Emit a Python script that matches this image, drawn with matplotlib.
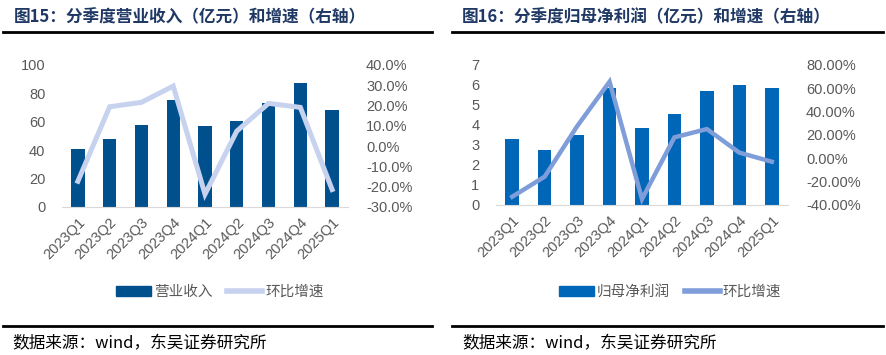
import matplotlib
matplotlib.use("Agg")
import matplotlib.pyplot as plt
from matplotlib.lines import Line2D
from matplotlib.patches import Patch
from matplotlib.ticker import FuncFormatter

plt.rcParams['font.family'] = ['Liberation Sans', 'Noto Sans CJK SC', 'DejaVu Sans']

# Data
quarters = ['2023Q1', '2023Q2', '2023Q3', '2023Q4', '2024Q1',
            '2024Q2', '2024Q3', '2024Q4', '2025Q1']
revenue = [40.5, 47.8, 57.9, 75.3, 56.9, 60.9, 73.4, 87.3, 68.5]
revenue_qoq = [-17.3, 19.4, 21.6, 29.6, -23.7, 7.4, 21.1, 19.1, -21.4]
profit = [3.28, 2.75, 3.52, 5.87, 3.85, 4.53, 5.68, 6.00, 5.83]
profit_qoq = [-32.9, -15.7, 27.5, 65.7, -34.9, 18.0, 25.1, 4.9, -2.9]

TICK_GRAY = '#595959'
CJK = ['Noto Sans CJK SC', 'DejaVu Sans']


def draw_panel(fig, rect, bars, line, bar_color, line_color, line_w,
               ylim, yticks, y2lim, y2ticks, pct_fmt):
    ax = fig.add_axes(rect)
    x = list(range(len(quarters)))
    ax.bar(x, bars, width=0.42, color=bar_color, zorder=2)
    ax.set_xlim(-0.5, len(quarters) - 0.5)
    ax.set_ylim(*ylim)
    ax.set_yticks(yticks)
    ax.set_xticks(x)
    ax.set_xticklabels(quarters, rotation=45, ha='right', va='top',
                       rotation_mode='anchor')
    for s in ['top', 'right', 'left']:
        ax.spines[s].set_visible(False)
    ax.spines['bottom'].set_color('#d9d9d9')
    ax.tick_params(axis='both', length=0, labelsize=10.5, colors=TICK_GRAY)
    ax.tick_params(axis='y', pad=12)
    ax.tick_params(axis='x', pad=6)

    ax2 = ax.twinx()
    ax2.plot(x, line, color=line_color, lw=line_w, zorder=3,
             solid_joinstyle='miter')
    ax2.set_ylim(*y2lim)
    ax2.set_yticks(y2ticks)
    ax2.yaxis.set_major_formatter(FuncFormatter(lambda v, p: pct_fmt.format(v)))
    for s in ['top', 'right', 'left', 'bottom']:
        ax2.spines[s].set_visible(False)
    ax2.tick_params(axis='y', length=0, labelsize=10.5, colors=TICK_GRAY, pad=13)
    return ax, ax2


fig = plt.figure(figsize=(8.86, 3.55), dpi=100)

# left panel: revenue
draw_panel(fig, [62 / 886, 1 - 207 / 355, 286 / 886, 142 / 355],
           revenue, revenue_qoq, '#00508E', '#C6D2EE', 3.6,
           (0, 100), [0, 20, 40, 60, 80, 100],
           (-30, 40), [-30, -20, -10, 0, 10, 20, 30, 40], '{:.1f}%')

# right panel: net profit
draw_panel(fig, [496 / 886, 1 - 205 / 355, 292 / 886, 140 / 355],
           profit, profit_qoq, '#0066B8', '#7F9ED9', 3.2,
           (0, 7), [0, 1, 2, 3, 4, 5, 6, 7],
           (-40, 80), [-40, -20, 0, 20, 40, 60, 80], '{:.2f}%')

# titles and rules
title_color = '#1F3864'
fig.text(14 / 886, 1 - 17 / 355, '图15：分季度营业收入（亿元）和增速（右轴）',
         family=CJK, fontsize=12, fontweight='bold', color=title_color,
         va='center', ha='left')
fig.text(462 / 886, 1 - 17 / 355, '图16：分季度归母净利润（亿元）和增速（右轴）',
         family=CJK, fontsize=12, fontweight='bold', color=title_color,
         va='center', ha='left')
for x0, x1 in [(3, 432), (452, 883)]:
    fig.add_artist(Line2D([x0 / 886, x1 / 886], [1 - 32 / 355] * 2,
                          color='black', lw=2))
    fig.add_artist(Line2D([x0 / 886, x1 / 886], [1 - 326 / 355] * 2,
                          color='black', lw=2))
fig.text(12 / 886, 1 - 344 / 355, '数据来源：wind，东吴证券研究所',
         family=CJK, fontsize=12, color='black', va='center', ha='left')
fig.text(462 / 886, 1 - 344 / 355, '数据来源：wind，东吴证券研究所',
         family=CJK, fontsize=12, color='black', va='center', ha='left')

# legends
leg_font = {'family': CJK, 'size': 10.5}
h1 = [Patch(color='#00508E'), Line2D([], [], color='#C6D2EE', lw=4)]
fig.legend(h1, ['营业收入', '环比增速'], loc='center left',
           bbox_to_anchor=(103 / 886, 1 - 292 / 355), ncol=2, frameon=False,
           prop=leg_font, handlelength=2.4, handleheight=0.7,
           handletextpad=0.2, columnspacing=1.0, labelcolor=TICK_GRAY)
h2 = [Patch(color='#0066B8'), Line2D([], [], color='#7F9ED9', lw=4)]
fig.legend(h2, ['归母净利润', '环比增速'], loc='center left',
           bbox_to_anchor=(546 / 886, 1 - 292 / 355), ncol=2, frameon=False,
           prop=leg_font, handlelength=2.4, handleheight=0.7,
           handletextpad=0.2, columnspacing=1.0, labelcolor=TICK_GRAY)

fig.savefig('out.png', dpi=100)
